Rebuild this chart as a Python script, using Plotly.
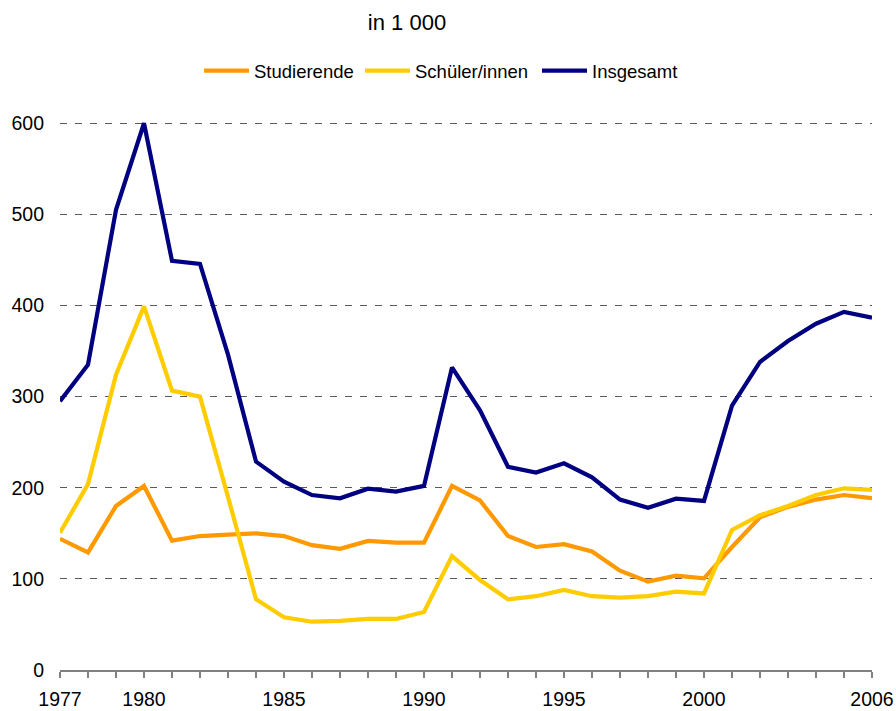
import plotly.graph_objects as go

years = list(range(1977, 2007))

studierende = [144, 129, 180, 202, 142, 147, 148.5, 150, 147, 137, 133, 141.6, 139.8, 139.8,
               202, 186, 147, 135, 138, 130, 109, 97, 103.5, 100.6, 135, 167.6, 179, 187, 192, 188.5]
schueler = [150.7, 204, 324, 399, 306.6, 300, 190, 77.6, 57.8, 53, 54, 56, 56, 63.7,
            125, 98.8, 77.6, 81, 87.8, 81, 79.4, 81, 86, 84, 153.7, 169.8, 180, 192, 199.4, 197.6]
insgesamt = [295, 335, 505, 600, 449, 445.6, 346, 228.7, 206.7, 192, 188.4, 199, 195.7, 202,
             332, 285, 223, 216.6, 226.8, 211.5, 187, 178, 188, 185.5, 290, 338, 361, 380, 393, 386.7]

series_names = ["Studierende", "Schüler/innen", "Insgesamt"]
series_colors = ["#FF9900", "#FFCC00", "#000080"]
label_years = [1977, 1980, 1985, 1990, 1995, 2000, 2006]
y_ticks = [0, 100, 200, 300, 400, 500, 600]
title_text = "in 1 000"

font_family = "Liberation Sans, Arial, sans-serif"

W, H = 896, 711
legend_ids = ["legend", "legend2", "legend3"]
legend_left = [199, 360, 537]

fig = go.Figure()
for name, vals, col, lg in zip(series_names, [studierende, schueler, insgesamt], series_colors, legend_ids):
    fig.add_trace(go.Scatter(x=years, y=vals, mode="lines", name=name, legend=lg,
                             line=dict(color=col, width=4.2)))

legend_common = dict(orientation="h", xref="container", yref="container", xanchor="left",
                     yanchor="middle", y=1 - 71 / H, font=dict(size=18.5),
                     itemwidth=45, bgcolor="rgba(0,0,0,0)", borderwidth=0)

fig.update_layout(
    width=W, height=H,
    margin=dict(l=60, r=24, t=105, b=41),
    paper_bgcolor="white", plot_bgcolor="white",
    font=dict(family=font_family, size=19.5, color="black"),
    title=dict(text=title_text, x=407 / W, xref="container", xanchor="center",
               y=1 - 22 / H, yref="container", yanchor="middle",
               font=dict(size=22, color="black", family=font_family)),
    legend=dict(x=legend_left[0] / W, **legend_common),
    legend2=dict(x=legend_left[1] / W, **legend_common),
    legend3=dict(x=legend_left[2] / W, **legend_common),
    showlegend=True,
)

fig.update_xaxes(
    range=[1977, 2006], automargin=False,
    tickmode="array", tickvals=years,
    ticktext=[str(y) if y in label_years else "" for y in years],
    ticks="outside", ticklen=6, tickcolor="#808080", tickwidth=1.5,
    showline=True, linecolor="#808080", linewidth=1.5,
    showgrid=False, zeroline=False, ticklabelstandoff=5,
)
fig.update_yaxes(
    range=[0, 620], automargin=False,
    tickmode="array", tickvals=y_ticks, ticktext=[str(v) for v in y_ticks],
    showgrid=True, gridcolor="#5a5a5a", gridwidth=1, griddash="7px,8px",
    zeroline=False, showline=False, ticks="", ticklabelstandoff=15,
)

fig.write_html("out.html", config={"displayModeBar": False},
               post_script="document.body.style.margin='0';")
